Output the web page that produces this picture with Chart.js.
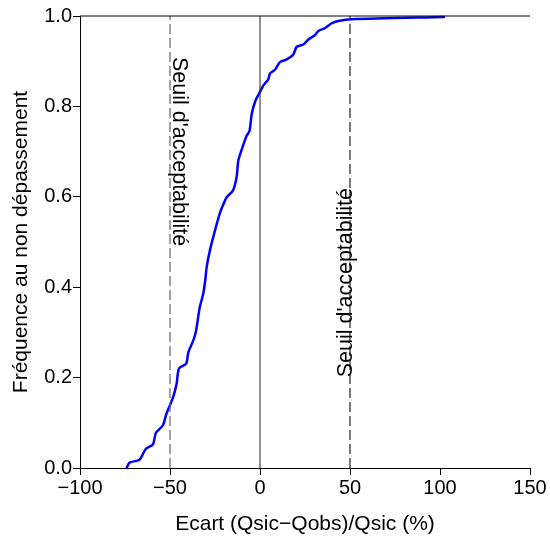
<!DOCTYPE html>
<html>
<head>
<meta charset="utf-8">
<script src="https://cdn.jsdelivr.net/npm/chart.js@4/dist/chart.umd.min.js"></script>
<style>
  html, body { margin: 0; padding: 0; background: #fff; }
  canvas { display: block; }
</style>
</head>
<body>
<canvas id="c" width="550" height="538"></canvas>
<script>
// Empirical distribution of the relative error (%)
const ecart = [-74.1, -72.5, -67.0, -63.5, -59.5, -57.8, -54.0, -52.0, -50.0, -48.0,
  -46.3, -45.0, -41.0, -39.8, -37.0, -35.6, -33.5, -31.5, -30.4, -29.6,
  -27.8, -25.9, -22.6, -20.7, -18.5, -15.0, -13.0, -12.0, -9.6, -7.4,
  -5.8, -4.6, -2.6, -0.4, 1.8, 4.6, 5.6, 8.3, 11.1, 14.8,
  18.5, 20.4, 24.1, 26.9, 30.6, 32.4, 36.1, 39.8, 43.5, 50.9, 102.2];
const frequence = [0.000, 0.012, 0.018, 0.042, 0.052, 0.078, 0.094, 0.120, 0.139, 0.160,
  0.187, 0.220, 0.231, 0.256, 0.283, 0.302, 0.355, 0.386, 0.416, 0.445,
  0.482, 0.512, 0.560, 0.580, 0.599, 0.614, 0.644, 0.681, 0.711, 0.735,
  0.746, 0.783, 0.812, 0.829, 0.846, 0.860, 0.873, 0.881, 0.898, 0.904,
  0.915, 0.932, 0.937, 0.948, 0.958, 0.967, 0.973, 0.984, 0.989, 0.993, 0.998];
const xTicks = [-100, -50, 0, 50, 100, 150];
const yTicks = [0.0, 0.2, 0.4, 0.6, 0.8, 1.0];
const seuils = [-50, 50];
const seuilLabel = "Seuil d'acceptabilité";
const xTitle = "Ecart (Qsic\u2212Qobs)/Qsic (%)";
const yTitle = "Fréquence au non dépassement";

const FONT = "'Liberation Sans', Arial, sans-serif";
const FS_TICK = 20;
const FS_TITLE = 21;
const FS_LABEL = 21.5;

const curve = ecart.map((x, i) => ({ x: x, y: frequence[i] }));

const seuilText = {
  id: 'seuilText',
  afterDatasetsDraw(chart) {
    const { ctx, scales } = chart;
    const xs = scales.x, ys = scales.y;
    ctx.save();
    ctx.fillStyle = '#000';
    ctx.font = FS_LABEL + 'px ' + FONT;
    ctx.textAlign = 'center';
    ctx.textBaseline = 'alphabetic';
    // left label: reading top to bottom, glyphs to the right of the line
    ctx.save();
    ctx.translate(xs.getPixelForValue(seuils[0]) + 3, ys.getPixelForValue(0.70));
    ctx.rotate(Math.PI / 2);
    ctx.fillText(seuilLabel, 0, 0);
    ctx.restore();
    // right label: reading bottom to top, baseline on the line
    ctx.save();
    ctx.translate(xs.getPixelForValue(seuils[1]) + 2, ys.getPixelForValue(0.41));
    ctx.rotate(-Math.PI / 2);
    ctx.fillText(seuilLabel, 0, 0);
    ctx.restore();
    ctx.restore();
  }
};

new Chart(document.getElementById('c'), {
  type: 'scatter',
  data: {
    datasets: [
      { data: [{x: xTicks[0], y: 1}, {x: xTicks[xTicks.length - 1], y: 1}], showLine: true,
        borderColor: '#000', borderWidth: 1, pointRadius: 0, clip: false },
      { data: [{x: 0, y: 0}, {x: 0, y: 1}], showLine: true,
        borderColor: '#222', borderWidth: 1, pointRadius: 0 },
      { data: [{x: seuils[0], y: 0}, {x: seuils[0], y: 1}], showLine: true,
        borderColor: '#666', borderWidth: 1.2, borderDash: [10, 4], pointRadius: 0 },
      { data: [{x: seuils[1], y: 0}, {x: seuils[1], y: 1}], showLine: true,
        borderColor: '#222', borderWidth: 1.2, borderDash: [10, 4], pointRadius: 0 },
      { data: curve, showLine: true, borderColor: '#0000ff', borderWidth: 2.5,
        borderJoinStyle: 'round', borderCapStyle: 'round',
        pointRadius: 0, tension: 0.25, clip: false }
    ]
  },
  options: {
    responsive: false,
    devicePixelRatio: 1,
    animation: false,
    layout: { padding: { top: 16, right: 20, left: 0, bottom: 0 } },
    plugins: { legend: { display: false }, tooltip: { enabled: false } },
    scales: {
      x: {
        type: 'linear', min: -100, max: 150,
        afterBuildTicks(s) { s.ticks = xTicks.map(v => ({ value: v })); },
        afterFit(s) { s.height = 70; },
        ticks: {
          color: '#000', font: { family: FONT, size: FS_TICK }, padding: 1,
          maxRotation: 0, autoSkip: false,
          callback: v => (v < 0 ? '\u2212' + Math.abs(v) : String(v))
        },
        grid: { drawOnChartArea: false, drawTicks: true, tickLength: 7, color: '#000', lineWidth: 1 },
        border: { display: true, color: '#000', width: 1 },
        title: { display: true, text: xTitle, color: '#000',
                 font: { family: FONT, size: FS_TITLE }, padding: { top: 0, bottom: 1 } }
      },
      y: {
        type: 'linear', min: 0, max: 1,
        afterBuildTicks(s) { s.ticks = yTicks.map(v => ({ value: v })); },
        afterFit(s) { s.width = 80; },
        ticks: {
          color: '#000', font: { family: FONT, size: FS_TICK }, padding: 1,
          callback: v => v.toFixed(1)
        },
        grid: { drawOnChartArea: false, drawTicks: true, tickLength: 7, color: '#000', lineWidth: 1 },
        border: { display: true, color: '#000', width: 1 },
        title: { display: true, text: yTitle, color: '#000',
                 font: { family: FONT, size: FS_TITLE }, padding: { top: 9, bottom: 0 } }
      }
    }
  },
  plugins: [seuilText]
});
</script>
</body>
</html>
